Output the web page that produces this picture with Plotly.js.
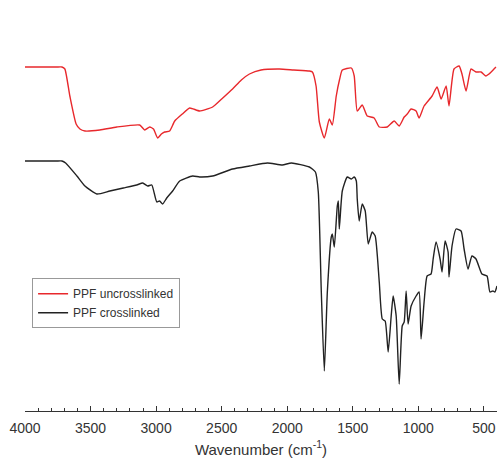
<!DOCTYPE html>
<html>
<head>
<meta charset="utf-8">
<script src="https://cdn.plot.ly/plotly-3.0.1.min.js"></script>
<style>html,body{margin:0;padding:0;background:#fff;}#chart{width:500px;height:463px;}</style>
</head>
<body>
<div id="chart"></div>
<script>
// Wavenumber (cm^-1) and transmittance (arbitrary units)
const uncrossWavenumber = [4000,3760,3718,3696,3658,3610,3581,3543,3429,3300,3125,3087,3049,3020,2988,2960,2935,2897,2858,2800,2744,2668,2569,2500,2417,2350,2288,2200,2059,1950,1831,1808,1780,1755,1717,1679,1656,1626,1600,1580,1511,1489,1466,1428,1390,1337,1298,1237,1184,1146,1108,1085,1055,1017,994,956,895,857,826,788,766,728,689,667,636,598,560,522,484,461,423,408];
const uncrossT = [344,344,344,342,315,287,282,280,281,284,286,281,284,282,273,277,279,280,290,297,303,300,304,312,322,331,337,341,342,341,340,339,325,289,273,292,286,315,332,341,343,335,300,306,295,293,284,284,290,285,294,297,302,300,293,305,315,324,312,325,305,342,345,337,320,342,339,339,335,337,342,344];

const crossWavenumber = [4000,3760,3718,3690,3604,3543,3452,3353,3250,3148,3102,3064,3033,2995,2973,2950,2919,2874,2820,2721,2668,2569,2417,2288,2151,2037,1968,1831,1785,1763,1740,1717,1694,1664,1656,1641,1618,1610,1603,1580,1542,1511,1489,1473,1466,1451,1428,1405,1382,1352,1329,1298,1275,1253,1230,1207,1192,1169,1146,1123,1108,1093,1078,1055,1017,994,979,956,933,903,887,865,834,819,796,773,766,743,712,674,651,621,591,560,515,476,454,431,416,400];
const crossT = [250,250,250,248,235,225,217,220,223,226,228,225,226,209,210,207,213,220,230,235,234,235,242,245,248,246,248,244,239,219,119,40,119,174,177,164,205,210,182,220,234,232,234,230,212,190,207,200,167,179,175,129,92,90,59,95,115,95,27,85,89,120,87,105,115,119,72,109,135,137,152,169,152,139,170,159,134,165,182,180,162,142,155,152,137,135,119,120,119,125];

const seriesNames = ["PPF uncrosslinked", "PPF crosslinked"];
const xTickVals = [4000,3500,3000,2500,2000,1500,1000,500];

const traces = [
  {x: uncrossWavenumber, y: uncrossT, name: seriesNames[0], type: "scatter", mode: "lines",
   line: {color: "#e8282c", width: 1.4, shape: "spline", smoothing: 0.5}},
  {x: crossWavenumber, y: crossT, name: seriesNames[1], type: "scatter", mode: "lines",
   line: {color: "#222222", width: 1.4, shape: "spline", smoothing: 0.5}}
];

const layout = {
  width: 500, height: 463,
  margin: {l: 25, r: 3, t: 0, b: 52},
  paper_bgcolor: "#ffffff", plot_bgcolor: "#ffffff",
  font: {family: "Liberation Sans, Arial, sans-serif", size: 12, color: "#333"},
  showlegend: true,
  legend: {x: 0.015, y: 0.323, xanchor: "left", yanchor: "top",
    bordercolor: "#999", borderwidth: 1, bgcolor: "#ffffff",
    font: {size: 12, color: "#333"}, tracegroupgap: 0},
  xaxis: {
    range: [4000, 400], tickvals: xTickVals, ticktext: xTickVals.map(String),
    ticks: "inside", ticklen: 5, tickcolor: "#333", tickwidth: 1,
    minor: {dtick: 100, ticks: "inside", ticklen: 3, tickcolor: "#333", showgrid: false},
    showline: true, linecolor: "#333", linewidth: 1,
    showgrid: false, zeroline: false,
    ticklabelstandoff: 4,
    tickfont: {size: 14, color: "#333"},
    title: {text: "Wavenumber (cm<sup>-1</sup>)", font: {size: 15, color: "#333"}, standoff: 9}
  },
  yaxis: {range: [0, 411], visible: false, showgrid: false, zeroline: false}
};

Plotly.newPlot("chart", traces, layout, {displayModeBar: false, staticPlot: true});
</script>
</body>
</html>
